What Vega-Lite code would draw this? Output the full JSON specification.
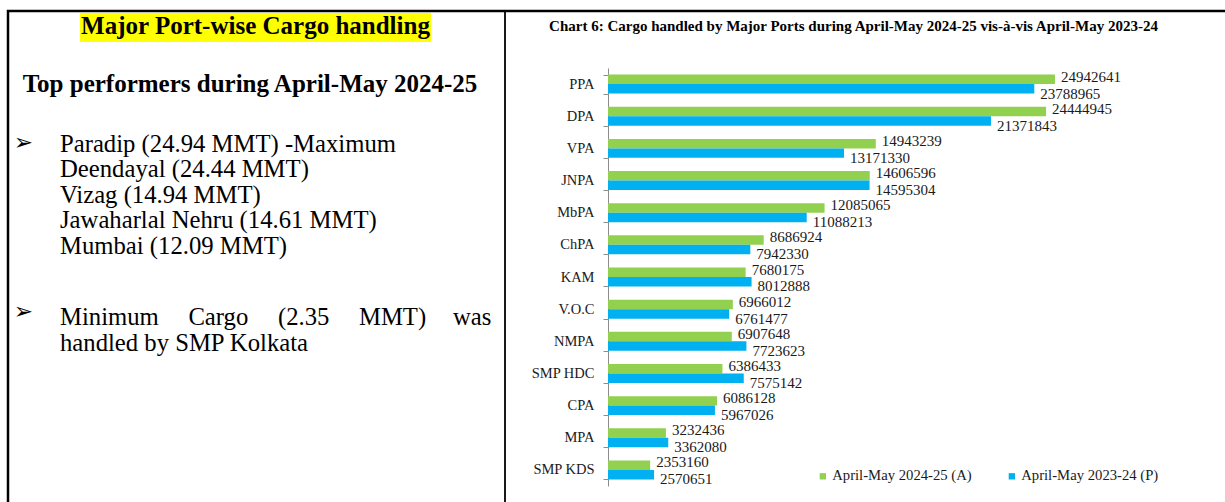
{
  "$schema": "https://vega.github.io/schema/vega-lite/v6.json",
  "width": 1221,
  "height": 495,
  "autosize": "none",
  "padding": {"left": 8, "top": 11, "right": -4, "bottom": -4},
  "background": "white",
  "config": {"view": {"stroke": "#000000", "strokeWidth": 2.5}},
  "datasets": {
    "notes": [
      {"part": "heading", "text": "Major Port-wise Cargo handling"},
      {"part": "subheading", "text": "Top performers during April-May 2024-25"},
      {"part": "arrow", "text": "➢", "item": "top"},
      {"part": "arrow", "text": "➢", "item": "minimum"},
      {"part": "top", "text": ["Paradip (24.94 MMT) -Maximum", "Deendayal (24.44 MMT)", "Vizag (14.94 MMT)", "Jawaharlal Nehru (14.61 MMT)", "Mumbai (12.09 MMT)"]},
      {"part": "minimum", "text": ["Minimum\u00a0\u00a0\u00a0\u00a0\u2009Cargo\u00a0\u00a0\u00a0\u00a0\u2009(2.35\u00a0\u00a0\u00a0\u00a0\u2009MMT)\u00a0\u00a0\u00a0\u00a0\u200awas", "handled by SMP Kolkata"]},
      {"part": "chartTitle", "text": "Chart 6: Cargo handled by Major Ports during April-May 2024-25 vis-à-vis April-May 2023-24"}
    ],
    "cargo": [
      {"port": "PPA", "period": "April-May 2024-25 (A)", "cargo": 24942641},
      {"port": "PPA", "period": "April-May 2023-24 (P)", "cargo": 23788965},
      {"port": "DPA", "period": "April-May 2024-25 (A)", "cargo": 24444945},
      {"port": "DPA", "period": "April-May 2023-24 (P)", "cargo": 21371843},
      {"port": "VPA", "period": "April-May 2024-25 (A)", "cargo": 14943239},
      {"port": "VPA", "period": "April-May 2023-24 (P)", "cargo": 13171330},
      {"port": "JNPA", "period": "April-May 2024-25 (A)", "cargo": 14606596},
      {"port": "JNPA", "period": "April-May 2023-24 (P)", "cargo": 14595304},
      {"port": "MbPA", "period": "April-May 2024-25 (A)", "cargo": 12085065},
      {"port": "MbPA", "period": "April-May 2023-24 (P)", "cargo": 11088213},
      {"port": "ChPA", "period": "April-May 2024-25 (A)", "cargo": 8686924},
      {"port": "ChPA", "period": "April-May 2023-24 (P)", "cargo": 7942330},
      {"port": "KAM", "period": "April-May 2024-25 (A)", "cargo": 7680175},
      {"port": "KAM", "period": "April-May 2023-24 (P)", "cargo": 8012888},
      {"port": "V.O.C", "period": "April-May 2024-25 (A)", "cargo": 6966012},
      {"port": "V.O.C", "period": "April-May 2023-24 (P)", "cargo": 6761477},
      {"port": "NMPA", "period": "April-May 2024-25 (A)", "cargo": 6907648},
      {"port": "NMPA", "period": "April-May 2023-24 (P)", "cargo": 7723623},
      {"port": "SMP HDC", "period": "April-May 2024-25 (A)", "cargo": 6386433},
      {"port": "SMP HDC", "period": "April-May 2023-24 (P)", "cargo": 7575142},
      {"port": "CPA", "period": "April-May 2024-25 (A)", "cargo": 6086128},
      {"port": "CPA", "period": "April-May 2023-24 (P)", "cargo": 5967026},
      {"port": "MPA", "period": "April-May 2024-25 (A)", "cargo": 3232436},
      {"port": "MPA", "period": "April-May 2023-24 (P)", "cargo": 3362080},
      {"port": "SMP KDS", "period": "April-May 2024-25 (A)", "cargo": 2353160},
      {"port": "SMP KDS", "period": "April-May 2023-24 (P)", "cargo": 2570651}
    ]
  },
  "resolve": {"scale": {"x": "independent", "y": "independent"}},
  "layer": [
    {
      "data": {"name": "notes"},
      "layer": [
        {
          "data": {"values": [{}]},
          "mark": {"type": "rule", "color": "#000000", "strokeWidth": 1.8},
          "encoding": {
            "x": {"datum": 505, "type": "quantitative", "scale": {"domain": [0, 1225], "range": [-8, 1217], "zero": false, "nice": false}, "axis": null}
          }
        },
        {
          "data": {"values": [{}]},
          "mark": {"type": "rect", "color": "#FFFF00"},
          "encoding": {
            "x": {"datum": 80, "type": "quantitative", "scale": {"domain": [0, 1225], "range": [-8, 1217], "zero": false, "nice": false}, "axis": null},
            "x2": {"datum": 431},
            "y": {"datum": 13, "type": "quantitative", "scale": {"domain": [0, 502], "range": [-11, 491], "zero": false, "nice": false}, "axis": null},
            "y2": {"datum": 42}
          }
        },
        {
          "transform": [{"filter": "datum.part === 'heading'"}],
          "mark": {"type": "text", "font": "Liberation Serif", "fontWeight": "bold", "fontSize": 25, "align": "center", "baseline": "alphabetic", "color": "#000000"},
          "encoding": {
            "x": {"datum": 255.5, "type": "quantitative"},
            "y": {"datum": 34, "type": "quantitative"},
            "text": {"field": "text"}
          }
        },
        {
          "transform": [{"filter": "datum.part === 'subheading'"}],
          "mark": {"type": "text", "font": "Liberation Serif", "fontWeight": "bold", "fontSize": 25, "align": "center", "baseline": "alphabetic", "color": "#000000"},
          "encoding": {
            "x": {"datum": 250, "type": "quantitative"},
            "y": {"datum": 92, "type": "quantitative"},
            "text": {"field": "text"}
          }
        },
        {
          "transform": [{"filter": "datum.part === 'arrow' && datum.item === 'top'"}],
          "mark": {"type": "text", "font": "DejaVu Sans", "fontSize": 23, "align": "center", "baseline": "middle", "color": "#000000"},
          "encoding": {
            "x": {"datum": 23.5, "type": "quantitative"},
            "y": {"datum": 143, "type": "quantitative"},
            "text": {"field": "text"}
          }
        },
        {
          "transform": [{"filter": "datum.part === 'arrow' && datum.item === 'minimum'"}],
          "mark": {"type": "text", "font": "DejaVu Sans", "fontSize": 23, "align": "center", "baseline": "middle", "color": "#000000"},
          "encoding": {
            "x": {"datum": 23.5, "type": "quantitative"},
            "y": {"datum": 312, "type": "quantitative"},
            "text": {"field": "text"}
          }
        },
        {
          "transform": [{"filter": "datum.part === 'top'"}],
          "mark": {"type": "text", "font": "Liberation Serif", "fontSize": 24.7, "align": "left", "baseline": "alphabetic", "lineHeight": 25.5, "color": "#000000"},
          "encoding": {
            "x": {"datum": 60, "type": "quantitative"},
            "y": {"datum": 151.7, "type": "quantitative"},
            "text": {"field": "text"}
          }
        },
        {
          "transform": [{"filter": "datum.part === 'minimum'"}],
          "mark": {"type": "text", "font": "Liberation Serif", "fontSize": 24.7, "align": "left", "baseline": "alphabetic", "lineHeight": 25.7, "color": "#000000"},
          "encoding": {
            "x": {"datum": 60, "type": "quantitative"},
            "y": {"datum": 325, "type": "quantitative"},
            "text": {"field": "text"}
          }
        },
        {
          "transform": [{"filter": "datum.part === 'chartTitle'"}],
          "mark": {"type": "text", "font": "Liberation Serif", "fontWeight": "bold", "fontSize": 15, "align": "center", "baseline": "alphabetic", "color": "#000000"},
          "encoding": {
            "x": {"datum": 853.5, "type": "quantitative"},
            "y": {"datum": 30.5, "type": "quantitative"},
            "text": {"field": "text"}
          }
        }
      ]
    },
    {
      "data": {"name": "cargo"},
      "encoding": {
        "y": {
          "field": "port", "type": "nominal",
          "sort": ["PPA", "DPA", "VPA", "JNPA", "MbPA", "ChPA", "KAM", "V.O.C", "NMPA", "SMP HDC", "CPA", "MPA", "SMP KDS"],
          "scale": {"range": [57, 475], "paddingInner": 0.41, "paddingOuter": 0.205},
          "axis": {"orient": "left", "offset": -600, "title": null, "grid": false, "domainColor": "#8c8c8c", "domainWidth": 1, "tickColor": "#8c8c8c", "tickSize": 5, "tickWidth": 1, "tickBand": "extent", "labelFont": "Liberation Serif", "labelFontSize": 14.5, "labelColor": "#1a1a1a", "labelPadding": 9}
        },
        "yOffset": {
          "field": "period", "type": "nominal",
          "scale": {"domain": ["April-May 2024-25 (A)", "April-May 2023-24 (P)"], "paddingInner": 0, "paddingOuter": 0}
        },
        "x": {
          "field": "cargo", "type": "quantitative",
          "scale": {"domain": [0, 30000000], "range": [600, 1137.6], "nice": false, "zero": true},
          "axis": null
        }
      },
      "layer": [
        {
          "mark": {"type": "bar"},
          "encoding": {
            "color": {
              "field": "period", "type": "nominal",
              "scale": {"domain": ["April-May 2024-25 (A)", "April-May 2023-24 (P)"], "range": ["#92D050", "#00B0F0"]},
              "legend": {"orient": "none", "legendX": 807.5, "legendY": 457.5, "direction": "horizontal", "title": null, "padding": 0, "symbolType": "square", "symbolSize": 40, "symbolStrokeWidth": 0, "symbolOpacity": 1, "labelFont": "Liberation Serif", "labelFontSize": 14.7, "labelColor": "#1a1a1a", "labelOffset": 2, "columnPadding": 32, "labelLimit": 300}
            }
          }
        },
        {
          "transform": [{"filter": "datum.period === 'April-May 2024-25 (A)'"}],
          "mark": {"type": "text", "align": "left", "baseline": "middle", "dx": 6, "dy": -2.7, "font": "Liberation Serif", "fontSize": 15, "color": "#1a1a1a"},
          "encoding": {"text": {"field": "cargo", "type": "quantitative", "format": "d"}}
        },
        {
          "transform": [{"filter": "datum.period === 'April-May 2023-24 (P)'"}],
          "mark": {"type": "text", "align": "left", "baseline": "middle", "dx": 6, "dy": 4.7, "font": "Liberation Serif", "fontSize": 15, "color": "#1a1a1a"},
          "encoding": {"text": {"field": "cargo", "type": "quantitative", "format": "d"}}
        }
      ]
    }
  ]
}
